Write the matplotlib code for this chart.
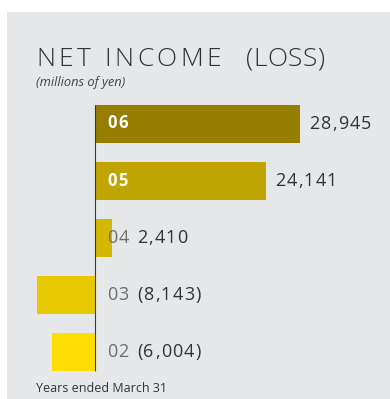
import matplotlib
matplotlib.use("Agg")
import matplotlib.pyplot as plt
import matplotlib.transforms as mtransforms
from matplotlib.font_manager import FontProperties, findfont, get_font

# data
years = ["06", "05", "04", "03", "02"]
net_income = [28945, 24141, 2410, -8143, -6004]
value_labels = ["28,945", "24,141", "2,410", "(8,143)", "(6,004)"]

bar_colors = ["#967d00", "#c0a500", "#d4b800", "#e8c800", "#ffdd00"]
panel = "#e6e7e9"

W, H = 390, 399
fig = plt.figure(figsize=(W / 100, H / 100), dpi=100)
fig.patch.set_facecolor("white")

# grey panel, white margin on top and left
ax = fig.add_axes([7 / W, 0, 1 - 7 / W, 1 - 12 / H])
ax.set_facecolor(panel)
for s in ax.spines.values():
    s.set_visible(False)
ax.set_xticks([])
ax.set_yticks([])

# scale: 205 px for 28,945 ; zero line at x=95 px ; bars every 57 px
unit = 28945 / 205
ax.set_xlim((7 - 95) * unit, (W - 95) * unit)
ax.set_ylim((H - 124) / 57, (12 - 124) / 57)

ypos = list(range(len(years)))
ax.barh(ypos, net_income, height=0.65, color=bar_colors)
ax.vlines(0, -0.325, len(years) - 1 + 0.325, color="#3a3a3a", lw=0.8)


def tracked(x, y, s, tf, track, size, dx=0, dy=0, family="Open Sans",
            weight="normal", style="normal", color="#333333"):
    prop = FontProperties(family=family, size=size, weight=weight, style=style)
    font = get_font(findfont(prop))
    font.set_size(size, fig.dpi)
    for ch in s:
        t = mtransforms.offset_copy(tf, fig=fig, x=dx, y=dy, units="dots")
        fig.text(x, y, ch, transform=t, fontproperties=prop, color=color,
                 ha="left", va="baseline")
        dx += font.load_char(ord(ch)).linearHoriAdvance / 65536 + track
    return dx


# title: "NET INCOME" letter-spaced, "(LOSS)" set normally
end = tracked(36 / W, 1 - 66 / H, "NET INCOME ", fig.transFigure, 3.5, 19,
              weight="light", color="#333333")
tracked(36 / W, 1 - 66 / H, "(LOSS)", fig.transFigure, 0.3, 19, dx=end + 11,
        weight="light", color="#333333")
fig.text(36 / W, 1 - 86 / H, "(millions of yen)", fontsize=9.3, style="italic",
         family="Open Sans", color="#444444", va="baseline")

# year and value labels
for i, (yr, v, lab) in enumerate(zip(years, net_income, value_labels)):
    inside = v > 0 and v / unit > 40
    if inside:
        end = tracked(0, i, yr, ax.transData, 1.5, 12, dx=12, dy=-4.5,
                      weight="bold", color="white")
    else:
        end = tracked(0, i, yr, ax.transData, 1.2, 13, dx=12, dy=-5,
                      weight="medium", color="#6e6e6e")
    start = max(v / unit, end) + 9 if inside else end + 7
    tracked(0, i, lab, ax.transData, 1.2, 13, dx=start, dy=-5,
            color="#333333")

fig.text(36 / W, 1 - 392 / H, "Years ended March 31", fontsize=9,
         family="Open Sans", color="#333333", va="baseline")

fig.savefig("out.png", dpi=100, facecolor=fig.get_facecolor())
